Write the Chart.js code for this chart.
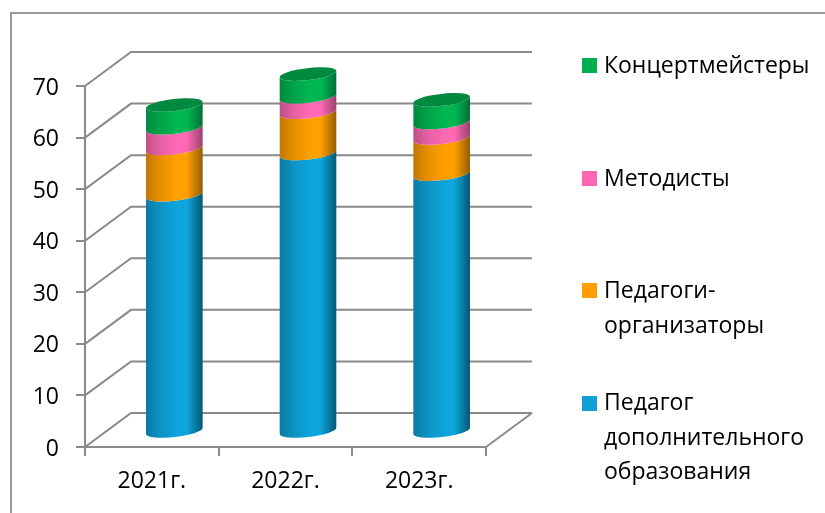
<!DOCTYPE html>
<html>
<head>
<meta charset="utf-8">
<script src="https://cdn.jsdelivr.net/npm/chart.js@4/dist/chart.umd.min.js"></script>
<style>
    html, body { margin: 0; background: #fff; }
    canvas { display: block; }
</style>
</head>
<body>
<canvas id="chart" width="825" height="513"></canvas>
<script>
    const categories = ["2021г.", "2022г.", "2023г."];
    const teachers = [46, 54, 50];
    const organizers = [9, 8, 7];
    const methodists = [4, 3, 3];
    const accompanists = [4.4, 4.4, 4.4];
    const yTicks = [0, 10, 20, 30, 40, 50, 60, 70];

    const axisGray = "#8a8a8a";
    const fontFamily = "'Open Sans', sans-serif";
    const depthX = 46, depthY = -34;
    const cylinderX = 22.5, cylinderY = -15;

    // side colours of each cylinder: left edge, shoulder, middle, right edge, top face
    const shades = [
        ["#0a7aa3", "#0c93c4", "#0da5dc", "#055672", "#0da5dc"],
        ["#bf7600", "#e88f00", "#ffa000", "#945c00", "#ffa000"],
        ["#bd4f86", "#e65fa3", "#ff69b4", "#98416d", "#ff69b4"],
        ["#008a3f", "#00a349", "#00b853", "#007037", "#008a3f"]
    ];

    function sideGradient(ctx, left, right, s) {
        const g = ctx.createLinearGradient(left, 0, right, 0);
        g.addColorStop(0, s[0]);
        g.addColorStop(0.25, s[1]);
        g.addColorStop(0.55, s[2]);
        g.addColorStop(0.72, s[2]);
        g.addColorStop(1, s[3]);
        return g;
    }

    // back wall, side wall and floor, then the cylinders on top
    const wallsPlugin = {
        id: "walls",
        beforeDraw(chart) {
            // y labels sit a little below their tick in the picture
            chart.scales.y.getLabelItems(chart.chartArea).forEach(item => {
                item.options.translation[1] += 2;
            });
        },
        beforeDatasetsDraw(chart) {
            const ctx = chart.ctx;
            const y = chart.scales.y, a = chart.chartArea;
            ctx.save();
            ctx.strokeStyle = axisGray;
            ctx.lineWidth = 2;
            yTicks.forEach(v => {
                const py = y.getPixelForValue(v);
                ctx.beginPath();
                ctx.moveTo(a.left, py);
                ctx.lineTo(a.left + depthX, py + depthY);
                ctx.lineTo(a.right + depthX, py + depthY);
                ctx.stroke();
            });
            ctx.beginPath();
            ctx.moveTo(a.right, a.bottom);
            ctx.lineTo(a.right + depthX, a.bottom + depthY);
            ctx.stroke();
            ctx.restore();
        },
        afterDatasetsDraw(chart) {
            const ctx = chart.ctx;
            const tilt = -0.115, ry = 6;
            const count = chart.data.datasets.length;
            ctx.save();
            chart.data.labels.forEach((label, i) => {
                for (let d = 0; d < count; d++) {
                    const bar = chart.getDatasetMeta(d).data[i];
                    const cx = bar.x + cylinderX;
                    const rx = bar.width / 2;
                    const top = bar.y + cylinderY;
                    const bottom = bar.base + cylinderY;
                    ctx.beginPath();
                    ctx.ellipse(cx, bottom, rx, ry, tilt, 0, Math.PI);
                    ctx.ellipse(cx, top, rx, ry, tilt, Math.PI, 0, true);
                    ctx.closePath();
                    ctx.fillStyle = sideGradient(ctx, cx - rx, cx + rx, shades[d]);
                    ctx.fill();
                    if (d === count - 1) {
                        ctx.beginPath();
                        ctx.ellipse(cx, top, rx, ry, tilt, 0, Math.PI * 2);
                        ctx.fillStyle = shades[d][4];
                        ctx.fill();
                    }
                }
            });
            ctx.restore();
        }
    };

    // legend with the same wrapped lines as the picture, and the frame lines
    const legendRows = [
        { dataset: 3, swatchY: 58, lines: [{ text: "Концертмейстеры", y: 66 }] },
        { dataset: 2, swatchY: 171, lines: [{ text: "Методисты", y: 179 }] },
        { dataset: 1, swatchY: 283, lines: [{ text: "Педагоги-", y: 291 }, { text: "организаторы", y: 326 }] },
        { dataset: 0, swatchY: 396, lines: [{ text: "Педагог", y: 403 }, { text: "дополнительного", y: 438 }, { text: "образования", y: 472 }] }
    ];

    const legendPlugin = {
        id: "sideLegend",
        afterDraw(chart) {
            const ctx = chart.ctx;
            ctx.save();
            ctx.strokeStyle = "#999";
            ctx.lineWidth = 2;
            ctx.beginPath();
            ctx.moveTo(11, 513);
            ctx.lineTo(11, 13);
            ctx.lineTo(825, 13);
            ctx.stroke();
            ctx.font = "23px " + fontFamily;
            ctx.textBaseline = "middle";
            legendRows.forEach(row => {
                ctx.fillStyle = chart.data.datasets[row.dataset].legendColor;
                ctx.fillRect(582, row.swatchY, 15, 15);
                ctx.fillStyle = "#000";
                row.lines.forEach(l => ctx.fillText(l.text, 604, l.y));
            });
            ctx.restore();
        }
    };

    new Chart(document.getElementById("chart"), {
        type: "bar",
        data: {
            labels: categories,
            datasets: [
                { label: "Педагог дополнительного образования", data: teachers, legendColor: "#0ea0d6" },
                { label: "Педагоги-организаторы", data: organizers, legendColor: "#ff9e00" },
                { label: "Методисты", data: methodists, legendColor: "#ff66b2" },
                { label: "Концертмейстеры", data: accompanists, legendColor: "#00b050" }
            ].map(ds => Object.assign(ds, { backgroundColor: "transparent", barThickness: 57 }))
        },
        options: {
            responsive: false,
            animation: false,
            layout: { padding: { top: 86, right: 339, bottom: 0, left: 0 } },
            plugins: {
                legend: { display: false },
                tooltip: { enabled: false }
            },
            scales: {
                x: {
                    stacked: true,
                    afterFit(scale) { scale.height = 66; },
                    border: { color: axisGray, width: 2 },
                    grid: { drawOnChartArea: false, color: axisGray, lineWidth: 2, tickLength: 9 },
                    ticks: { color: "#000", padding: 12, font: { size: 23, family: fontFamily } }
                },
                y: {
                    stacked: true,
                    min: 0,
                    max: 70,
                    afterFit(scale) { scale.width = 85; },
                    border: { color: axisGray, width: 2 },
                    grid: { drawOnChartArea: false, color: axisGray, lineWidth: 2, tickLength: 9 },
                    ticks: { stepSize: 10, color: "#000", padding: 17, font: { size: 23, family: fontFamily } }
                }
            }
        },
        plugins: [wallsPlugin, legendPlugin]
    });
</script>
</body>
</html>
